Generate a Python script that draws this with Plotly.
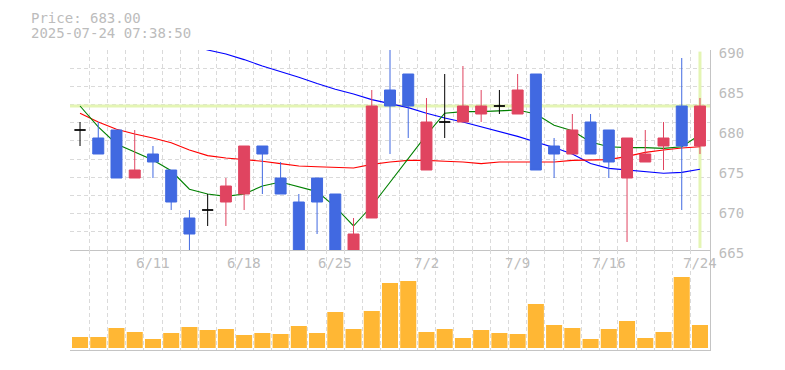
import plotly.graph_objects as go

# ---------------- data ----------------
dates = ["6/5", "6/6", "6/9", "6/10", "6/11", "6/12", "6/13", "6/16", "6/17", "6/18",
         "6/19", "6/20", "6/23", "6/24", "6/25", "6/26", "6/27", "6/30", "7/1", "7/2",
         "7/3", "7/4", "7/7", "7/8", "7/9", "7/10", "7/11", "7/14", "7/15", "7/16",
         "7/17", "7/18", "7/22", "7/23", "7/24"]
label_dates = ["6/11", "6/18", "6/25", "7/2", "7/9", "7/16", "7/24"]

open_ = [680, 679, 680, 674, 677, 675, 669, 670, 671, 672,
         678, 674, 671, 674, 672, 664.5, 669, 685, 687, 675,
         681, 681, 682, 683, 682, 687, 678, 677, 681, 680,
         674, 676, 678, 683, 678]
high = [681, 681, 680, 680, 678, 675, 670, 672, 674, 678,
        678, 676, 672, 674, 672, 669, 685, 690.5, 687, 684,
        687, 688, 685, 685, 687, 687, 679, 682, 682, 680,
        679, 680, 681, 689, 684]
low = [678, 677, 674, 674, 674, 670, 664.5, 668, 668, 670,
       672, 672, 664, 667, 664, 664, 669, 677, 679, 675,
       679, 681, 681, 682, 682, 675, 674, 677, 677, 674,
       666, 676, 675, 670, 677]
close = [680, 677, 674, 675, 676, 671, 667, 670, 673, 678,
         677, 672, 664.5, 671, 664.5, 667, 683, 683, 683, 681,
         681, 683, 683, 683, 685, 675, 677, 680, 677, 676,
         679, 677, 679, 678, 683]

ma_short = [683.0, 680.4, 678.25, 677.2, 676.25, 674.9, 672.6, 672.0, 671.7, 672.0,
            673.0, 673.5, 672.9, 672.3, 670.4, 668.0, 670.5, 673.5, 676.5, 679.4,
            682.1, 682.3, 682.3, 682.4, 682.5, 682.0, 680.6, 679.9, 678.5, 677.9,
            677.8, 677.8, 677.7, 677.9, 679.4]
ma_mid = [682.1, 681.0, 680.1, 679.5, 679.0, 678.4, 677.5, 676.8, 676.5, 676.3,
          676.1, 675.8, 675.5, 675.4, 675.3, 675.25, 675.7, 676.0, 676.2, 676.2,
          676.1, 676.0, 675.8, 676.0, 676.0, 676.0, 676.0, 676.2, 676.25, 676.3,
          676.7, 677.2, 677.5, 677.75, 677.9]
ma_long = [694.9, 694.2, 693.5, 692.8, 692.1, 691.4, 690.7, 690.0, 689.5, 688.8,
           688.0, 687.3, 686.6, 685.8, 685.1, 684.5, 683.8, 683.3, 682.8, 682.1,
           681.5, 681.0, 680.4, 679.75, 679.2, 678.5, 677.8, 677.0, 675.8, 675.2,
           675.0, 674.75, 674.6, 674.7, 675.1]

volume = [11000, 11000, 20000, 16000, 9000, 15000, 21000, 18000, 19000, 13000,
          15000, 14000, 22000, 15000, 36000, 19000, 37000, 65000, 67000, 16000,
          19000, 10000, 18000, 15000, 14000, 44000, 23000, 20000, 9000, 19000,
          27000, 10000, 16000, 71000, 23000]

price_ticks = [665, 670, 675, 680, 685, 690]
timestamp = "2025-07-24 07:38:50"

# ---------------- figure ----------------
idx = list(range(len(dates)))
is_doji = [o == c for o, c in zip(open_, close)]
body_idx = [i for i in idx if not is_doji[i]]
doji_idx = [i for i in idx if is_doji[i]]

RED = "#e04460"
BLUE = "#4169e1"
FONT = "DejaVu Sans Mono"
TXT = "#bcbcbc"
GRID = "#dadada"
HL = "#e4f5b4"

xr = [-0.55, len(dates) - 1 + 0.55]
bounds = [i - 0.5 for i in range(len(dates) + 1)]
pr = [min(price_ticks), max(price_ticks)]
hgrid = [pr[0] + (pr[1] - pr[0]) * k / 11 for k in range(12)]
hgrid[-1] -= 0.001
hgrid[0] += 0.001

fig = go.Figure()

# lines live on the base price subplot (drawn underneath the candle overlay)
fig.add_trace(go.Scatter(x=xr, y=[close[-1], close[-1]], mode="lines",
                         line=dict(color=HL, width=3), hoverinfo="skip",
                         xaxis="x", yaxis="y"))
fig.add_trace(go.Scatter(x=[idx[-1], idx[-1]], y=[pr[0] + 0.25, pr[1] - 0.2], mode="lines",
                         line=dict(color=HL, width=3), hoverinfo="skip",
                         xaxis="x", yaxis="y"))

for vals, col in [(ma_long, "#0000ff"), (ma_mid, "#ff0000"), (ma_short, "#008000")]:
    fig.add_trace(go.Scatter(x=idx, y=vals, mode="lines",
                             line=dict(color=col, width=1.1),
                             xaxis="x", yaxis="y", hoverinfo="skip"))

# candles on an overlaying axis so they sit above the lines
fig.add_trace(go.Candlestick(
    x=body_idx,
    open=[open_[i] for i in body_idx], high=[high[i] for i in body_idx],
    low=[low[i] for i in body_idx], close=[close[i] for i in body_idx],
    increasing=dict(line=dict(color=RED, width=1), fillcolor=RED),
    decreasing=dict(line=dict(color=BLUE, width=1), fillcolor=BLUE),
    whiskerwidth=0, xaxis="x", yaxis="y3"))

fig.add_trace(go.Candlestick(
    x=doji_idx,
    open=[open_[i] for i in doji_idx], high=[high[i] for i in doji_idx],
    low=[low[i] for i in doji_idx], close=[close[i] for i in doji_idx],
    increasing=dict(line=dict(color="#000000", width=1), fillcolor="#000000"),
    decreasing=dict(line=dict(color="#000000", width=1), fillcolor="#000000"),
    whiskerwidth=0, xaxis="x", yaxis="y3"))

fig.add_trace(go.Bar(x=idx, y=volume, marker=dict(color="#ffb734", line=dict(width=0)),
                     xaxis="x2", yaxis="y2", hoverinfo="skip"))

xcommon = dict(range=xr, showticklabels=False, showgrid=False, zeroline=False,
               ticks="", fixedrange=True, automargin=False,
               minor=dict(tickmode="array", tickvals=bounds, showgrid=True,
                          gridcolor=GRID, griddash="4px,3px", gridwidth=1, ticks=""),
               showline=True, linecolor="#c4c4c4", linewidth=1)

fig.update_layout(
    width=785, height=370,
    margin=dict(l=62, r=83, t=42, b=28),
    paper_bgcolor="white", plot_bgcolor="white",
    showlegend=False, boxgap=0.14, bargap=0.12,
    xaxis=dict(**xcommon, anchor="y", rangeslider=dict(visible=False)),
    xaxis2=dict(**xcommon, anchor="y2", matches="x"),
    yaxis=dict(domain=[1 / 3, 1], range=[pr[0], pr[1]], side="right", anchor="x",
               tickmode="array", tickvals=price_ticks, ticks="", automargin=False,
               ticklabelstandoff=5, ticklabelshift=3,
               tickfont=dict(family=FONT, size=14, color=TXT),
               showgrid=False, zeroline=False, showline=True,
               linecolor="#c4c4c4", linewidth=1,
               minor=dict(tickmode="array", tickvals=hgrid, showgrid=True,
                          gridcolor=GRID, griddash="4px,3px", gridwidth=1, ticks="")),
    yaxis3=dict(overlaying="y", range=[pr[0], pr[1]], side="right", anchor="x",
                visible=False, showgrid=False, zeroline=False, automargin=False),
    yaxis2=dict(domain=[0, 1 / 3], range=[-2000, 98000], side="right", anchor="x2",
                showticklabels=False, ticks="", showgrid=False, zeroline=False,
                automargin=False, showline=True, linecolor="#c4c4c4", linewidth=1),
)

# date labels
for d in label_dates:
    fig.add_annotation(x=dates.index(d), xref="x2", y=1, yref="y2 domain",
                       yanchor="top", yshift=-3, showarrow=False, text=d,
                       font=dict(family=FONT, size=14, color=TXT))

# header texts
fig.add_annotation(x=0, xref="paper", xshift=-41, xanchor="left", y=1, yref="paper",
                   yanchor="middle", yshift=32, showarrow=False,
                   text=f"Price: {close[-1]:.2f}", font=dict(family=FONT, size=14, color=TXT))
fig.add_annotation(x=0, xref="paper", xshift=-41, xanchor="left", y=1, yref="paper",
                   yanchor="middle", yshift=17, showarrow=False,
                   text=timestamp, font=dict(family=FONT, size=14, color=TXT))

fig.write_html("out.html")
